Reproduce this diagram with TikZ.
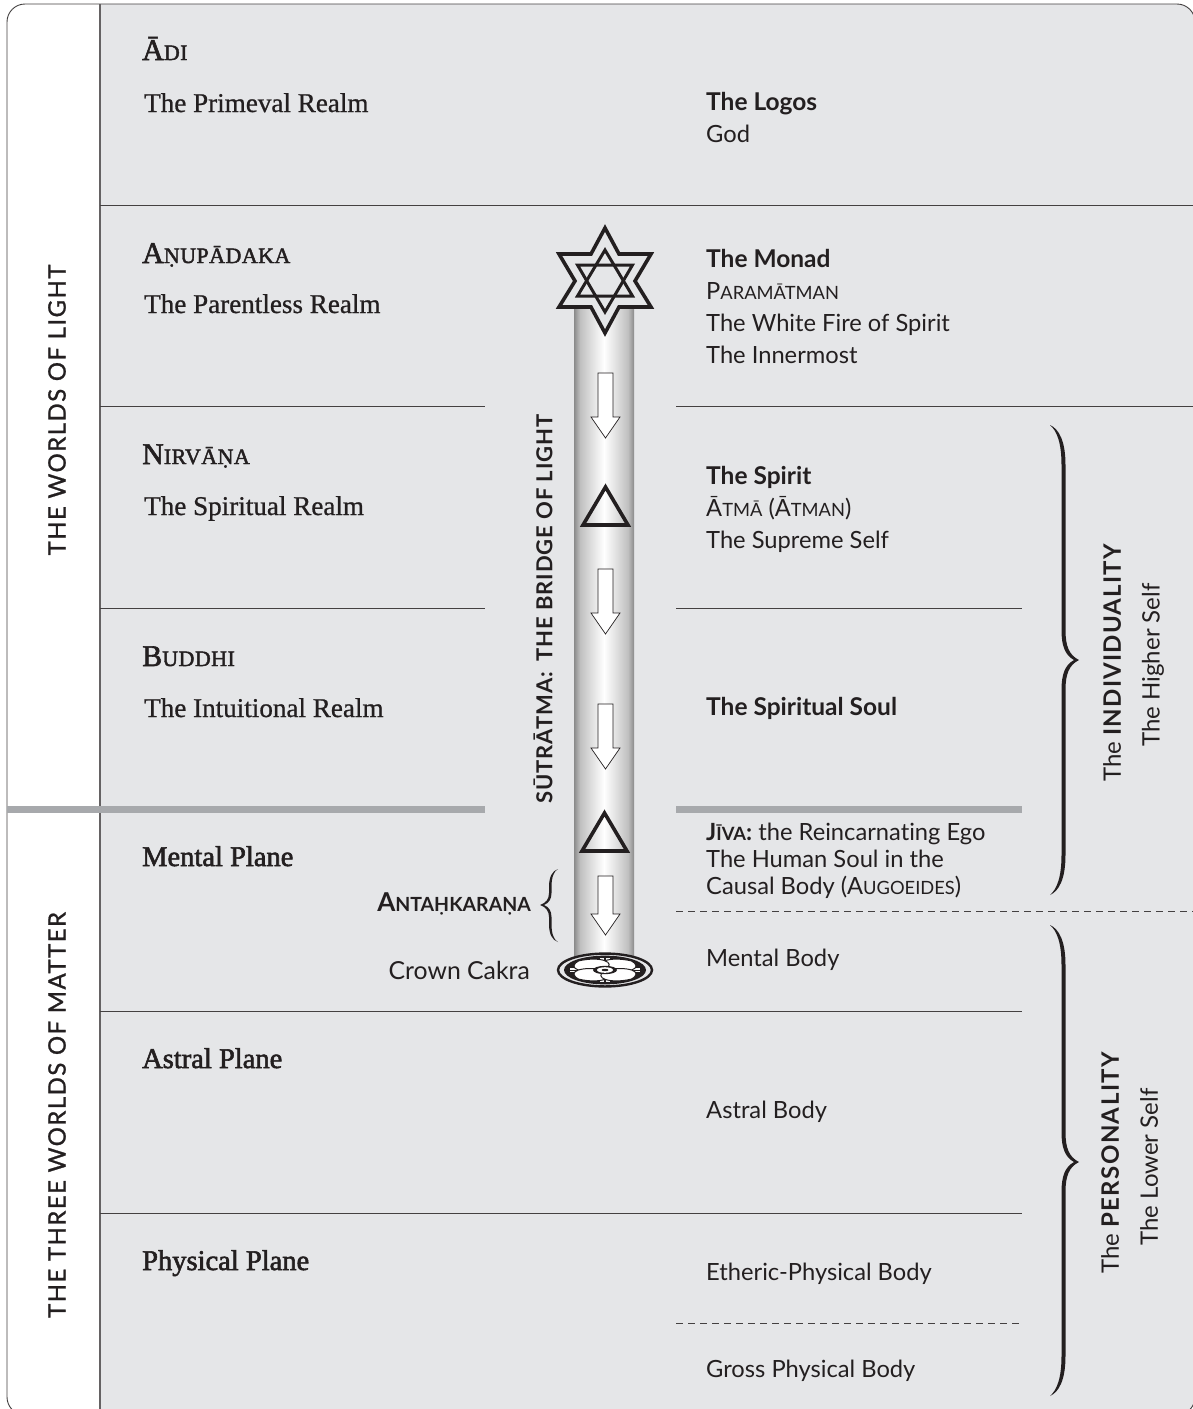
\documentclass[tikz,border=0pt]{standalone}
\usepackage{fontspec}
\setmainfont{Liberation Serif}
\setsansfont{Lato}[Ligatures=NoCommon]
\usetikzlibrary{positioning}
\definecolor{planegray}{HTML}{E5E6E8}
\definecolor{rulegray}{HTML}{A7A9AC}
\definecolor{inkdark}{HTML}{231F20}
\pgfdeclarehorizontalshading{shaftshade}{60bp}{
    color(0bp)=(black!60);
    color(4bp)=(black!50);
    color(10bp)=(black!25);
    color(20bp)=(black!12);
    color(30bp)=(white);
    color(40bp)=(black!12);
    color(50bp)=(black!25);
    color(56bp)=(black!50);
    color(60bp)=(black!60)
}
% small capitals by hand
\newcommand{\planecaps}[2]{{\fontsize{30}{32}\selectfont\addfontfeature{FakeBold=2}#1}{\fontsize{22}{24}\selectfont\addfontfeature{LetterSpace=2,FakeBold=2}#2}}
\newcommand{\bodycaps}[2]{#1{\fontsize{18.3}{22}\selectfont #2}}
\newcommand{\rbracepath}[3]{% top, tip, bottom (y values)
    \fill[inkdark] (1050,#1) .. controls (1059,#1+4) and (1065.5,#1+16) .. (1065.5,#1+40)
        -- (1065.5,#2-30) .. controls (1065.5,#2-14) and (1069,#2-5) .. (1079,#2)
        .. controls (1069,#2+5) and (1065.5,#2+14) .. (1065.5,#2+30)
        -- (1065.5,#3-40) .. controls (1065.5,#3-16) and (1059,#3-4) .. (1050,#3)
        .. controls (1057,#3-6) and (1061.5,#3-18) .. (1061.5,#3-40)
        -- (1061.5,#2+30) .. controls (1061.5,#2+14) and (1065,#2+5) .. (1074,#2)
        .. controls (1065,#2-5) and (1061.5,#2-14) .. (1061.5,#2-30)
        -- (1061.5,#1+40) .. controls (1061.5,#1+18) and (1057,#1+6) .. (1050,#1) -- cycle;
}
\newcommand{\downarrowbox}[2]{% top y of the arrow, length of its stem
    \draw[arrowbox] (598,#1) -- (613,#1) -- (613,#1+#2) -- (620,#1+#2) -- (605.5,#1+#2+21)
        -- (591,#1+#2) -- (598,#1+#2) -- cycle;
}

\begin{document}
\begin{tikzpicture}[
        x=1pt,
        y=-1pt,
        planename/.style={
            % The font
            font = \fontsize{28.5}{30}\selectfont\addfontfeature{FakeBold=2},
            color = inkdark,
            anchor = base west,
            inner sep = 0pt
        },
        realm/.style={
            font = \fontsize{27.1}{30}\selectfont\addfontfeature{FakeBold=0.8},
            color = inkdark,
            anchor = base west,
            inner sep = 0pt
        },
        body/.style={
            font = \fontsize{23.7}{28}\sffamily,
            color = inkdark,
            anchor = base west,
            inner sep = 0pt
        },
        bodybold/.style={
            body,
            font = \fontsize{24.5}{28}\sffamily\bfseries
        },
        sidelabel/.style={
            font = \fontsize{24}{28}\sffamily\addfontfeature{LetterSpace=6,FakeBold=1},
            color = inkdark,
            rotate = 90,
            inner sep = 0pt
        },
        selflabel/.style={
            font = \fontsize{24}{28}\sffamily,
            color = inkdark,
            rotate = 90,
            inner sep = 0pt
        },
        divider/.style={
            draw = inkdark!85,
            line width = 0.9pt
        },
        dashdivider/.style={
            divider,
            dash pattern = on 7pt off 5pt
        },
        thickrule/.style={
            draw = rulegray,
            line width = 7pt
        },
        arrowbox/.style={
            draw = inkdark,
            fill = white,
            line width = 0.7pt
        },
        triangleline/.style={
            draw = inkdark,
            line width = 3.6pt,
            miter limit = 10
        },
        starline/.style={
            draw = inkdark,
            line width = 3pt,
            miter limit = 10
        },
    ]
        \useasboundingbox (0,0) rectangle (1193,1409);
        \begin{scope}
            \clip (0,0) rectangle (1193,1409);

            % The panel
            \fill[white,rounded corners=18pt] (7,4) rectangle (1195,1415);
            \begin{scope}
                \clip[rounded corners=18pt] (7,4) rectangle (1195,1415);
                \fill[planegray] (100,0) rectangle (1195,1415);
            \end{scope}
            \draw[divider,rounded corners=18pt] (7,4) rectangle (1195,1415);
            \draw[divider,line width=1.2pt,draw=inkdark!70] (100,4) -- (100,1409);

            % The planes
            \draw[divider] (100,205) -- (1193,205);
            \draw[divider] (100,406) -- (485,406);
            \draw[divider] (676,406) -- (1193,406);
            \draw[divider] (100,608) -- (485,608);
            \draw[divider] (676,608) -- (1022,608);
            \draw[thickrule] (7,809) -- (485,809);
            \draw[thickrule] (676,809) -- (1022,809);
            \draw[dashdivider] (676,911) -- (1193,911);
            \draw[divider] (100,1011) -- (1022,1011);
            \draw[divider] (100,1213) -- (1022,1213);
            \draw[dashdivider] (676,1323) -- (1022,1323);
        \end{scope}

        % The bridge
        \shade[shading=shaftshade] (574,300) rectangle (634,972);
        \draw[starline,line width=3.6pt,fill=planegray] (605,228) -- (619,254) -- (651,254) -- (635,281)
            -- (651,307) -- (619,307) -- (605,333) -- (591,307) -- (559,307) -- (575,281)
            -- (559,254) -- (591,254) -- cycle;
        \draw[starline] (605,250) -- (632.5,296) -- (577.5,296) -- cycle;
        \draw[starline] (605,312) -- (632.5,265) -- (577.5,265) -- cycle;
        \downarrowbox{373}{44}
        \downarrowbox{569}{44}
        \downarrowbox{704}{44}
        \downarrowbox{876}{38}
        \draw[triangleline] (605.5,487) -- (628,525) -- (583,525) -- cycle;
        \draw[triangleline] (604.5,813) -- (627,851) -- (582,851) -- cycle;

        % The crown centre
        \begin{scope}[shift={(605,970)},yscale=0.35]
            \fill[planegray,draw=inkdark,line width=2.4pt] (0,0) circle (47);
            \fill[inkdark] (0,0) circle (41);
            \fill[white!70!planegray] (-35,-5) rectangle (35,5);
            \fill[white!70!planegray] (-5,-35) rectangle (5,35);
            \draw[inkdark,line width=0.9pt] (-41,0) -- (41,0);
            \draw[inkdark,line width=1.6pt] (0,-41) -- (0,41);
            \foreach \petalangle in {45,135,225,315} {
                \fill[white,draw=inkdark,line width=1pt,rotate=\petalangle]
                    (0,0) .. controls (8,-26) and (32,-24) .. (37,0)
                    .. controls (32,24) and (8,26) .. (0,0) -- cycle;
            }
            \fill[inkdark] (0,0) circle (12);
            \fill[white] (0,0) circle (8);
            \fill[inkdark] (0,0) circle (3.5);
        \end{scope}

        % Braces
        \rbracepath{425}{660}{895}
        \rbracepath{925}{1162}{1396}
        \fill[inkdark] (558,869) .. controls (552,871) and (549,877) .. (549,887)
            -- (549,893) .. controls (549,899) and (546,903) .. (540,905)
            .. controls (546,907) and (549,911) .. (549,917)
            -- (549,924) .. controls (549,934) and (552,940) .. (558,942)
            .. controls (554,940) and (551.5,934) .. (551.5,924)
            -- (551.5,917) .. controls (551.5,911) and (549,907) .. (544,905)
            .. controls (549,903) and (551.5,899) .. (551.5,893)
            -- (551.5,887) .. controls (551.5,877) and (554,871) .. (558,869) -- cycle;

        % The planes, left column
        \node (adiName) [planename] at (142,60) {\planecaps{Ā}{DI}};
        \node (adiRealm) [realm] at (144,112) {The Primeval Realm};
        \node (anupadakaName) [planename] at (142,263) {\planecaps{A}{ṆUPĀDAKA}};
        \node (anupadakaRealm) [realm] at (144,313) {The Parentless Realm};
        \node (nirvanaName) [planename] at (142,464) {\planecaps{N}{IRVĀṆA}};
        \node (nirvanaRealm) [realm] at (144,515) {The Spiritual Realm};
        \node (buddhiName) [planename] at (142,666) {\planecaps{B}{UDDHI}};
        \node (buddhiRealm) [realm] at (144,717) {The Intuitional Realm};
        \node (mentalName) [planename] at (142,866) {Mental Plane};
        \node (astralName) [planename] at (142,1068) {Astral Plane};
        \node (physicalName) [planename] at (142,1270) {Physical Plane};

        % The bodies, right column
        \node (logosName) [bodybold] at (706,110) {The Logos};
        \node (logosGod) [body] at (706,142) {God};
        \node (monadName) [bodybold] at (706,267) {The Monad};
        \node (monadSkt) [body] at (706,299) {\bodycaps{P}{ARAMĀTMAN}};
        \node (monadFire) [body] at (706,331) {The White Fire of Spirit};
        \node (monadInner) [body] at (706,363) {The Innermost};
        \node (spiritName) [bodybold] at (706,484) {The Spirit};
        \node (spiritSkt) [body] at (706,516) {\bodycaps{Ā}{TMĀ} (\bodycaps{Ā}{TMAN})};
        \node (spiritSelf) [body] at (706,548) {The Supreme Self};
        \node (soulName) [bodybold] at (706,715) {The Spiritual Soul};
        \node (jivaLine) [body] at (706,840) {{\bfseries\bodycaps{J}{ĪVA}:} the Reincarnating Ego};
        \node (humanLine) [body] at (706,867) {The Human Soul in the};
        \node (causalLine) [body] at (706,894) {Causal Body (\bodycaps{A}{UGOEIDES})};
        \node (mentalBody) [body] at (706,966) {Mental Body};
        \node (astralBody) [body] at (706,1118) {Astral Body};
        \node (ethericBody) [body] at (706,1280) {Etheric-Physical Body};
        \node (grossBody) [body] at (706,1377) {Gross Physical Body};

        % Labels beside the bridge
        \node (antahkarana) [body,anchor=base east,font=\fontsize{22}{26}\sffamily\bfseries] at (531,911) {\fontsize{26}{28}\selectfont A\fontsize{19.5}{22}\selectfont NTAḤKARAṆA};
        \node (crownCakra) [body,anchor=base east,font=\fontsize{24.8}{28}\sffamily] at (530,979) {Crown Cakra};
        \node (bridgeTitle) [selflabel,font=\fontsize{22}{26}\sffamily\bfseries\addfontfeature{LetterSpace=4.2}] at (543,609) {SŪTRĀTMA:\, THE BRIDGE OF LIGHT};

        % Side titles
        \node (worldsLight) [sidelabel] at (57,410) {THE WORLDS OF LIGHT};
        \node (worldsMatter) [sidelabel] at (57,1115) {THE THREE WORLDS OF MATTER};
        \node (individuality) [selflabel] at (1112,663) {The {\bfseries\addfontfeature{LetterSpace=5} INDIVIDUALITY}};
        \node (higherSelf) [selflabel] at (1153,665) {The Higher Self};
        \node (personality) [selflabel] at (1110,1163) {The {\bfseries\addfontfeature{LetterSpace=6} PERSONALITY}};
        \node (lowerSelf) [selflabel] at (1149,1167) {The Lower Self};

    \end{tikzpicture}
\end{document}
